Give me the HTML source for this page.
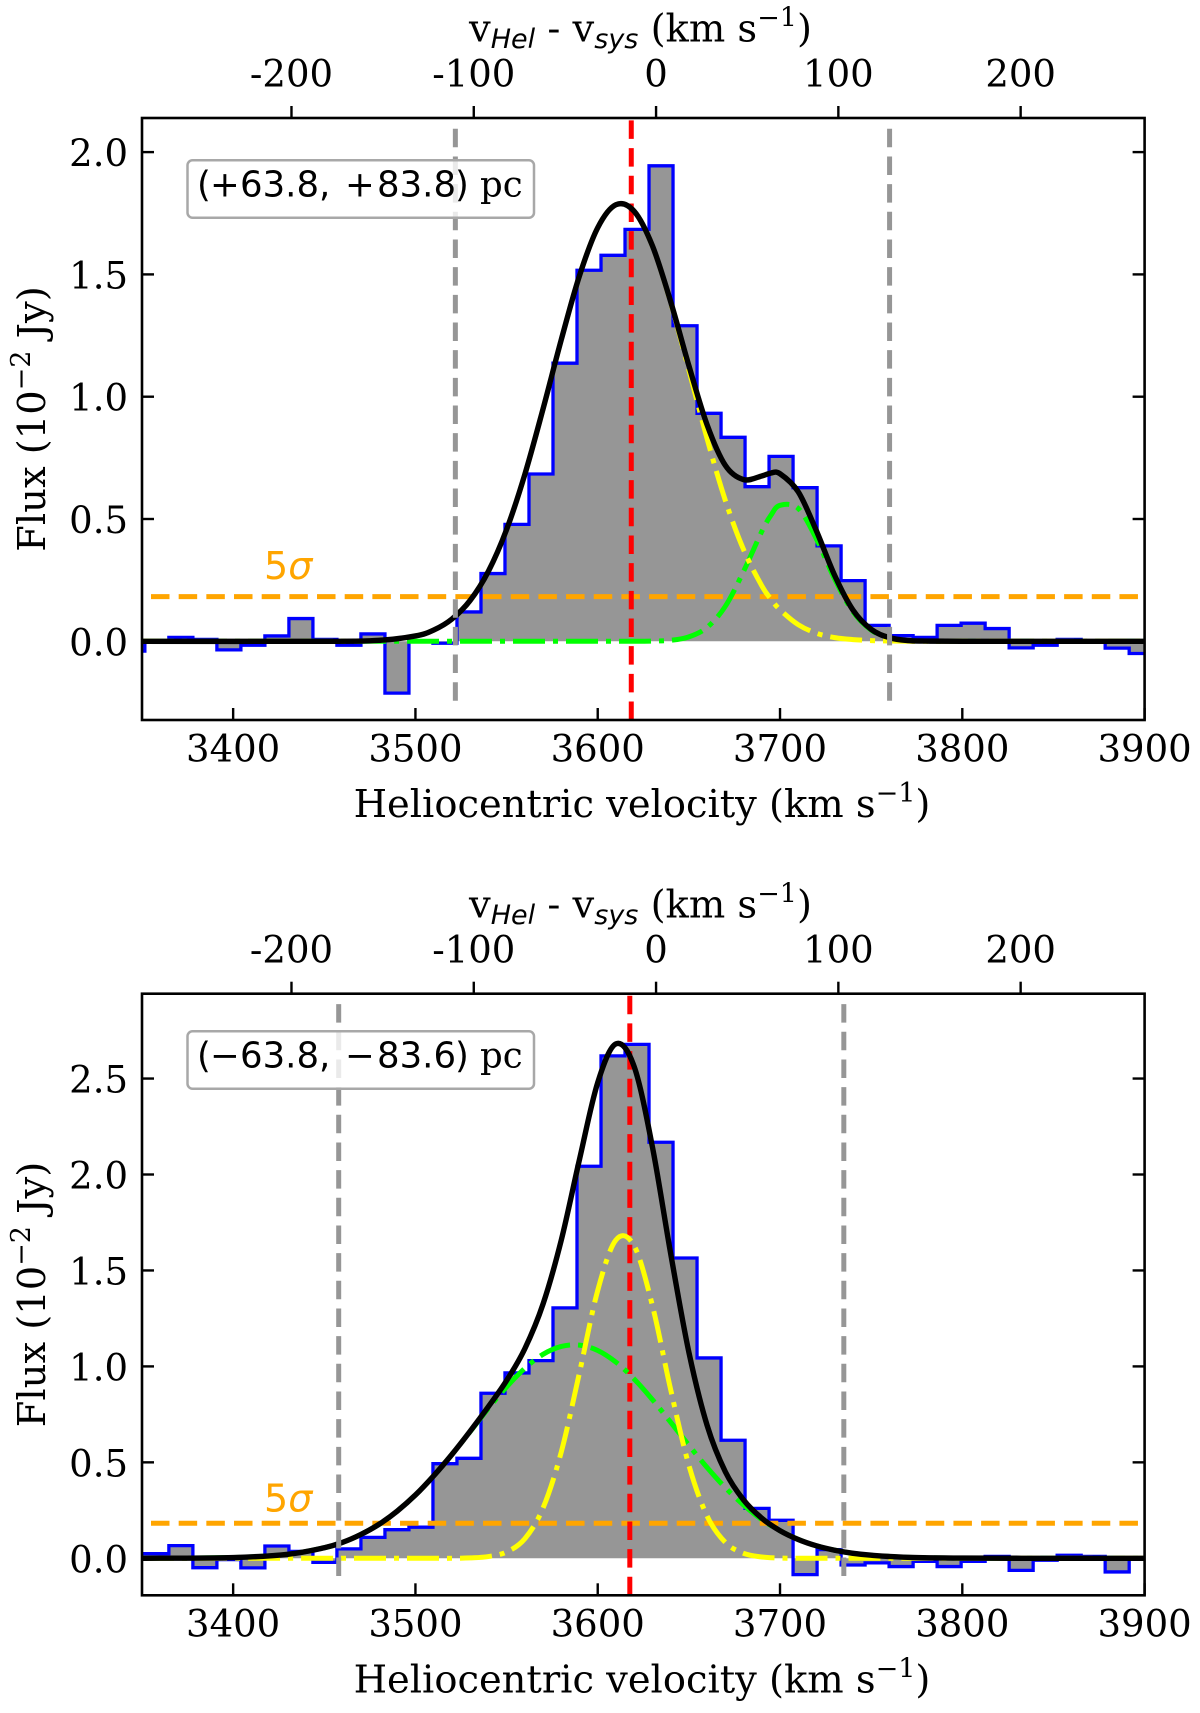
<!DOCTYPE html>
<html lang="en">
<head>
<meta charset="utf-8">
<title>Spectral flux panels</title>
<style>
html,body{margin:0;padding:0;background:#fff;}
svg{display:block;}
text{font-family:"DejaVu Serif","Liberation Serif",serif;fill:#000;}
.sans{font-family:"DejaVu Sans","Liberation Sans",sans-serif;}
</style>
</head>
<body>
<svg id="chart" xmlns="http://www.w3.org/2000/svg" width="1200" height="1713" viewBox="0 0 1200 1713"></svg>
<script>
// ---- shared axis data ----
const xTickValues = [3400, 3500, 3600, 3700, 3800, 3900];
const xTickLabels = ["3400", "3500", "3600", "3700", "3800", "3900"];
const topTickValues = [-200, -100, 0, 100, 200];
const topTickLabels = ["-200", "-100", "0", "100", "200"];
const systemicVelocity = [3632];
const binStart = [3338.4];
const binWidth = [13.17];

// ---- upper panel data ----
const yTicksUpper = [0, 0.5, 1, 1.5, 2];
const yLabelsUpper = ["0.0", "0.5", "1.0", "1.5", "2.0"];
const fluxUpper = [-0.04, 0, 0.016, 0.008, -0.035, -0.016, 0.022, 0.093, 0.008, -0.016, 0.03, -0.212, 0, -0.008, 0.12, 0.277, 0.478, 0.684, 1.137, 1.517, 1.578, 1.684, 1.944, 1.29, 0.932, 0.834, 0.632, 0.756, 0.628, 0.39, 0.248, 0.065, 0.023, 0.016, 0.065, 0.074, 0.052, -0.027, -0.016, 0.008, 0, -0.028, -0.05];
const curveVelUpper = [3350, 3450, 3480, 3500, 3510, 3520, 3530, 3540, 3550, 3560, 3570, 3580, 3590, 3600, 3610, 3620, 3630, 3640, 3650, 3660, 3670, 3680, 3690, 3695, 3700, 3710, 3720, 3730, 3740, 3750, 3760, 3770, 3780, 3800, 3850, 3900];
const yellowUpper = [0, 0, 0.004, 0.022, 0.046, 0.091, 0.167, 0.286, 0.457, 0.682, 0.95, 1.233, 1.495, 1.691, 1.785, 1.758, 1.616, 1.385, 1.109, 0.828, 0.576, 0.375, 0.227, 0.173, 0.129, 0.068, 0.033, 0.015, 0.007, 0.003, 0.001, 0, 0, 0, 0, 0];
const greenUpper = [0, 0, 0, 0, 0, 0, 0, 0, 0, 0, 0, 0, 0, 0, 0, 0, 0.001, 0.004, 0.018, 0.057, 0.143, 0.286, 0.449, 0.515, 0.556, 0.543, 0.418, 0.254, 0.121, 0.046, 0.014, 0.003, 0.001, 0, 0, 0];
const blackUpper = [0, 0, 0.004, 0.022, 0.046, 0.091, 0.167, 0.286, 0.457, 0.682, 0.95, 1.233, 1.495, 1.691, 1.785, 1.758, 1.617, 1.389, 1.127, 0.885, 0.719, 0.661, 0.676, 0.688, 0.685, 0.611, 0.451, 0.269, 0.128, 0.049, 0.015, 0.003, 0.001, 0, 0, 0];
const limitsUpper = [3521.9, 3760.1];
const centerUpper = [3618.4];
const sigmaUpper = [0.1826];

// ---- lower panel data ----
const yTicksLower = [0, 0.5, 1, 1.5, 2, 2.5];
const yLabelsLower = ["0.0", "0.5", "1.0", "1.5", "2.0", "2.5"];
const fluxLower = [0.024, 0.024, 0.066, -0.049, -0.007, -0.05, 0.064, 0.036, -0.021, 0.049, 0.109, 0.149, 0.162, 0.493, 0.521, 0.86, 0.966, 1.03, 1.305, 2.043, 2.618, 2.678, 2.168, 1.565, 1.044, 0.615, 0.26, 0.198, -0.085, 0.045, -0.035, -0.024, -0.043, -0.016, -0.043, -0.016, 0.01, -0.063, -0.01, 0.016, 0.01, -0.071, 0];
const curveVelLower = [3350, 3400, 3430, 3450, 3460, 3470, 3480, 3490, 3500, 3510, 3520, 3530, 3540, 3550, 3560, 3570, 3580, 3590, 3600, 3610, 3620, 3630, 3640, 3650, 3660, 3670, 3680, 3690, 3700, 3710, 3720, 3730, 3740, 3750, 3770, 3800, 3850, 3900];
const yellowLower = [0, 0, 0, 0, 0, 0, 0, 0, 0, 0, 0, 0.002, 0.009, 0.033, 0.102, 0.262, 0.554, 0.968, 1.396, 1.659, 1.628, 1.317, 0.88, 0.485, 0.22, 0.083, 0.026, 0.007, 0.001, 0, 0, 0, 0, 0, 0, 0, 0, 0];
const greenLower = [0, 0.004, 0.021, 0.055, 0.083, 0.124, 0.177, 0.246, 0.33, 0.43, 0.541, 0.66, 0.781, 0.893, 0.99, 1.063, 1.104, 1.111, 1.083, 1.022, 0.934, 0.827, 0.709, 0.589, 0.473, 0.368, 0.278, 0.202, 0.143, 0.098, 0.065, 0.042, 0.026, 0.016, 0.005, 0.001, 0, 0];
const blackLower = [0, 0.004, 0.021, 0.055, 0.083, 0.124, 0.177, 0.246, 0.33, 0.43, 0.541, 0.662, 0.79, 0.926, 1.092, 1.325, 1.658, 2.079, 2.479, 2.681, 2.562, 2.144, 1.589, 1.074, 0.693, 0.451, 0.304, 0.209, 0.144, 0.098, 0.065, 0.042, 0.026, 0.016, 0.005, 0.001, 0, 0];
const limitsLower = [3457.9, 3735];
const centerLower = [3617.6];
const sigmaLower = [0.1824];

// ---- rendering ----
const NS = "http://www.w3.org/2000/svg";
const root = document.getElementById("chart");
const AX = {left: 142, right: 1144.6, vMin: 3350, vMax: 3900};
function xScale(v) { return AX.left + (v - AX.vMin) * (AX.right - AX.left) / (AX.vMax - AX.vMin); }

function make(parent, tag, attrs, content) {
  const node = document.createElementNS(NS, tag);
  for (const k in attrs) node.setAttribute(k, attrs[k]);
  if (content !== undefined) node.textContent = content;
  parent.appendChild(node);
  return node;
}
function smoothPath(pts) {
  let d = "M" + pts[0][0].toFixed(2) + " " + pts[0][1].toFixed(2);
  for (let i = 0; i < pts.length - 1; i++) {
    const p0 = pts[Math.max(i - 1, 0)], p1 = pts[i], p2 = pts[i + 1], p3 = pts[Math.min(i + 2, pts.length - 1)];
    const c1x = p1[0] + (p2[0] - p0[0]) / 6, c1y = p1[1] + (p2[1] - p0[1]) / 6;
    const c2x = p2[0] - (p3[0] - p1[0]) / 6, c2y = p2[1] - (p3[1] - p1[1]) / 6;
    d += "C" + c1x.toFixed(2) + " " + c1y.toFixed(2) + " " + c2x.toFixed(2) + " " + c2y.toFixed(2) + " " + p2[0].toFixed(2) + " " + p2[1].toFixed(2);
  }
  return d;
}
function addSpan(parent, text, attrs) {
  const s = make(parent, "tspan", attrs || {}, text);
  return s;
}

function drawPanel(p) {
  const g = make(root, "g", {});
  
  
  const yScale = v => p.y0 - v * p.yUnit;
  const clipId = "clip-" + p.name;
  const defs = make(g, "defs", {});
  const cp = make(defs, "clipPath", {id: clipId});
  make(cp, "rect", {x: AX.left, y: p.top, width: AX.right - AX.left, height: p.bottom - p.top});
  const plot = make(g, "g", {"clip-path": "url(#" + clipId + ")"});
  
  

  // histogram
  const edge = i => binStart[0] + i * binWidth[0];
  let stepD = "", fillD = "M" + xScale(edge(0)).toFixed(2) + " " + yScale(0).toFixed(2);
  p.flux.forEach((f, i) => {
    const seg = (i === 0 ? "M" : "L") + xScale(edge(i)).toFixed(2) + " " + yScale(f).toFixed(2) + "L" + xScale(edge(i + 1)).toFixed(2) + " " + yScale(f).toFixed(2);
    stepD += seg;
    fillD += "L" + xScale(edge(i)).toFixed(2) + " " + yScale(f).toFixed(2) + "L" + xScale(edge(i + 1)).toFixed(2) + " " + yScale(f).toFixed(2);
  });
  fillD += "L" + xScale(edge(p.flux.length)).toFixed(2) + " " + yScale(0).toFixed(2) + "Z";
  const fill = make(plot, "path", {d: fillD, fill: "#969696", stroke: "none"});
  
  
  const step = make(plot, "path", {d: stepD, fill: "none", stroke: "#0000ff", "stroke-width": 3.3, "stroke-linejoin": "miter"});
  
  

  // 5 sigma threshold
  const sig = make(plot, "line", {x1: 151, x2: 1139.6, y1: yScale(p.sigma[0]), y2: yScale(p.sigma[0]), stroke: "#ffa500", "stroke-width": 5, "stroke-dasharray": "18.5 9.17"});
  
  

  // centre velocity
  const red = make(plot, "line", {x1: xScale(p.center[0]), x2: xScale(p.center[0]), y1: p.bottom, y2: p.top, stroke: "#ff0000", "stroke-width": 5, "stroke-dasharray": "18.5 9.17"});
  
  

  // components
  const greenPts = p.vel.map((v, i) => [xScale(v), yScale(p.green[i])]);
  const green = make(plot, "path", {d: smoothPath(greenPts), fill: "none", stroke: "#00ff00", "stroke-width": 5, "stroke-dasharray": "32 8 5 8"});
  
  
  const yellowPts = p.vel.map((v, i) => [xScale(v), yScale(p.yellow[i])]);
  const yellow = make(plot, "path", {d: smoothPath(yellowPts), fill: "none", stroke: "#ffff00", "stroke-width": 5, "stroke-dasharray": "32 8 5 8"});
  
  
  const blackPts = p.vel.map((v, i) => [xScale(v), yScale(p.black[i])]);
  const black = make(plot, "path", {d: smoothPath(blackPts), fill: "none", stroke: "#000000", "stroke-width": 5.4});
  
  

  // integration limits
  p.limits.forEach(v => {
    const l = make(plot, "line", {x1: xScale(v), x2: xScale(v), y1: p.bottom - 19.3, y2: p.top + 9.3, stroke: "#969696", "stroke-width": 5, "stroke-dasharray": "18.5 9.17"});
    
    
  });

  // position box
  const box = make(g, "rect", {x: 187.5, y: p.boxY, width: 346.5, height: 57.4, rx: 5, ry: 5, fill: "#ffffff", "fill-opacity": 0.8, stroke: "#a8a8a8", "stroke-width": 2.5});
  
  
  const boxText = make(g, "text", {y: p.boxY + 36.4, "font-size": 35.5});
  
  
  addSpan(boxText, "(", {x: 197, class: "sans"});
  addSpan(boxText, p.sign, {x: 210, class: "sans"});
  addSpan(boxText, p.posA + ",", {x: 240, class: "sans"});
  addSpan(boxText, p.sign, {x: 345, class: "sans"});
  addSpan(boxText, p.posB, {x: 377, class: "sans"});
  addSpan(boxText, ")", {x: 455, class: "sans"});
  addSpan(boxText, "pc", {x: 480});

  // 5 sigma label
  const sl = make(g, "text", {x: 264, y: p.sigmaLabelY, "font-size": 38, class: "sans", style: "fill:#ffa500"});
  
  
  addSpan(sl, "5", {style: "fill:#ffa500"});
  addSpan(sl, "σ", {style: "fill:#ffa500;font-style:italic"});

  // frame
  const frame = make(g, "rect", {x: AX.left, y: p.top, width: AX.right - AX.left, height: p.bottom - p.top, fill: "none", stroke: "#000", "stroke-width": 2.6});
  
  

  // bottom x ticks
  xTickValues.forEach((v, i) => {
    const t = make(g, "line", {x1: xScale(v), x2: xScale(v), y1: p.bottom, y2: p.bottom - 12, stroke: "#000", "stroke-width": 2.4});
    
    
    const tl = make(g, "text", {x: xScale(v), y: p.bottom + 41.3, "font-size": 37, "text-anchor": "middle"}, xTickLabels[i]);
    
    
  });
  // top relative-velocity ticks
  topTickValues.forEach((v, i) => {
    const px = xScale(systemicVelocity[0] + v);
    const t = make(g, "line", {x1: px, x2: px, y1: p.top, y2: p.top - 12, stroke: "#000", "stroke-width": 2.4});
    
    
    const tl = make(g, "text", {x: px, y: p.top - 31.4, "font-size": 37, "text-anchor": "middle"}, topTickLabels[i]);
    
    
  });
  // y ticks
  p.yTicks.forEach((v, i) => {
    const py = yScale(v);
    const tL = make(g, "line", {x1: AX.left, x2: AX.left + 12, y1: py, y2: py, stroke: "#000", "stroke-width": 2.4});
    
    
    const tR = make(g, "line", {x1: AX.right, x2: AX.right - 12, y1: py, y2: py, stroke: "#000", "stroke-width": 2.4});
    
    
    const tl = make(g, "text", {x: 128, y: py + 14, "font-size": 37, "text-anchor": "end"}, p.yLabels[i]);
    
    
  });

  // x axis title
  const xt = make(g, "text", {x: 642, y: p.bottom + 97, "font-size": 38.4, "text-anchor": "middle"});
  
  
  addSpan(xt, "Heliocentric velocity (km s");
  addSpan(xt, "−1", {"font-size": 27, dy: -15});
  addSpan(xt, ")", {dy: 15});

  // top axis title
  const tt = make(g, "text", {x: 640.5, y: p.top - 76.3, "font-size": 38.4, "text-anchor": "middle"});
  
  
  addSpan(tt, "v");
  addSpan(tt, "Hel", {"font-size": 27, dy: 6.5, class: "sans", "font-style": "italic"});
  addSpan(tt, " - v", {dy: -6.5});
  addSpan(tt, "sys", {"font-size": 27, dy: 6.5, class: "sans", "font-style": "italic"});
  addSpan(tt, " (km s", {dy: -6.5});
  addSpan(tt, "−1", {"font-size": 27, dy: -15});
  addSpan(tt, ")", {dy: 15});

  // y axis title
  const yc = (p.top + p.bottom) / 2;
  const yt = make(g, "text", {x: 0, y: 0, "font-size": 38.4, "text-anchor": "middle", transform: "translate(45 " + yc + ") rotate(-90)"});
  
  
  addSpan(yt, "Flux (10");
  addSpan(yt, "−2", {"font-size": 27, dy: -15});
  addSpan(yt, " Jy)", {dy: 15});
}

drawPanel({name: "upper", top: 118, bottom: 720, y0: 641.3, yUnit: 244.6,
  flux: fluxUpper, vel: curveVelUpper, yellow: yellowUpper, green: greenUpper, black: blackUpper,
  limits: limitsUpper, center: centerUpper, sigma: sigmaUpper, yTicks: yTicksUpper, yLabels: yLabelsUpper,
  boxY: 160.3, sigmaLabelY: 579, sign: "+", posA: "63.8", posB: "83.8"});
drawPanel({name: "lower", top: 993.7, bottom: 1595.3, y0: 1558.3, yUnit: 191.9,
  flux: fluxLower, vel: curveVelLower, yellow: yellowLower, green: greenLower, black: blackLower,
  limits: limitsLower, center: centerLower, sigma: sigmaLower, yTicks: yTicksLower, yLabels: yLabelsLower,
  boxY: 1031.3, sigmaLabelY: 1511.3, sign: "−", posA: "63.8", posB: "83.6"});
</script>
</body>
</html>
